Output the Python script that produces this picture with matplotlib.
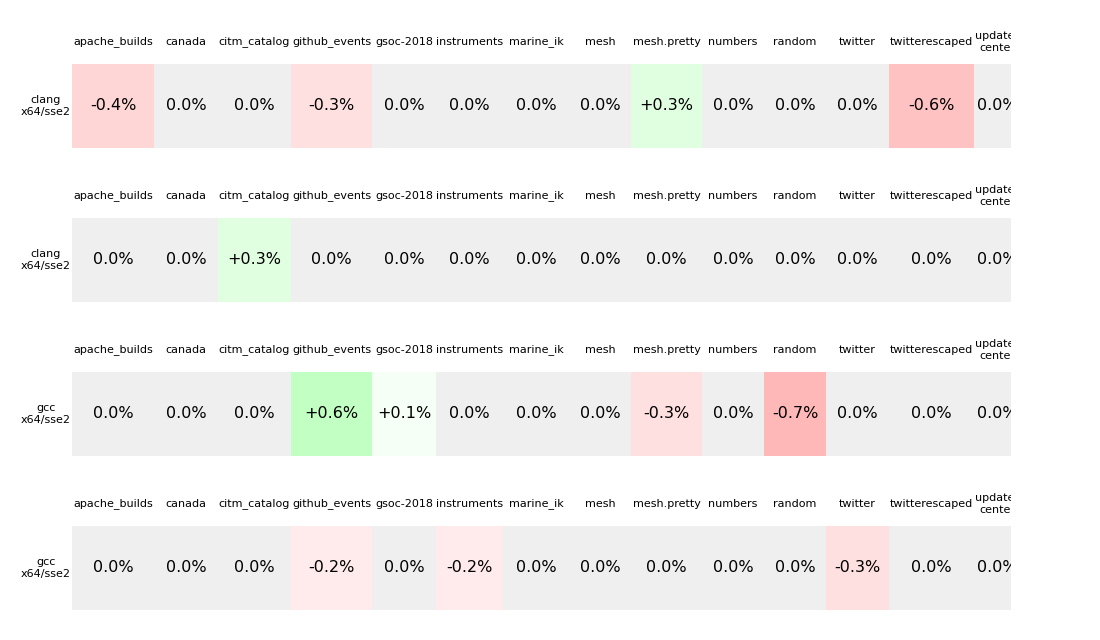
import matplotlib
matplotlib.use("Agg")
import matplotlib.pyplot as plt
from matplotlib.patches import Rectangle
import numpy as np

# ---- data ----
columns = ["apache_builds", "canada", "citm_catalog", "github_events", "gsoc-2018",
           "instruments", "marine_ik", "mesh", "mesh.pretty", "numbers", "random",
           "twitter", "twitterescaped", "update-\ncenter"]
row_labels = ["clang\nx64/sse2", "clang\nx64/sse2", "gcc\nx64/sse2", "gcc\nx64/sse2"]
row1 = [-0.4, 0.0, 0.0, -0.3, 0.0, 0.0, 0.0, 0.0, 0.3, 0.0, 0.0, 0.0, -0.6, 0.0]
row2 = [0.0, 0.0, 0.3, 0.0, 0.0, 0.0, 0.0, 0.0, 0.0, 0.0, 0.0, 0.0, 0.0, 0.0]
row3 = [0.0, 0.0, 0.0, 0.6, 0.1, 0.0, 0.0, 0.0, -0.3, 0.0, -0.7, 0.0, 0.0, 0.0]
row4 = [0.0, 0.0, 0.0, -0.2, 0.0, -0.2, 0.0, 0.0, 0.0, 0.0, 0.0, -0.3, 0.0, 0.0]
rows = [row1, row2, row3, row4]

# ---- layout (pixels) ----
W, H = 1100, 640
col_widths = [82, 64, 73, 81, 64, 67, 66, 62, 71, 62, 62, 63, 85, 46]
x0 = 72
clip_right = 1011
row_top0 = 64
row_pitch = 154
cell_h = 84
label_gap = 22


def cell_color(v):
    if v == 0:
        return (0xEF / 255, 0xEF / 255, 0xEF / 255)
    d = min(1.0, abs(v) * 102 / 255)
    c = 1.0 - d
    return (1.0, c, c) if v < 0 else (c, 1.0, c)


def fmt(v):
    if v == 0:
        return "0.0%"
    return f"{v:+.1f}%"


fig = plt.figure(figsize=(W / 100, H / 100), dpi=100)
ax = fig.add_axes([0, 0, 1, 1])
ax.set_xlim(0, W)
ax.set_ylim(H, 0)
ax.axis("off")

clip = Rectangle((0, 0), clip_right, H, transform=ax.transData, visible=False)
ax.add_patch(clip)

edges = x0 + np.concatenate([[0], np.cumsum(col_widths)])

for r, (vals, rlab) in enumerate(zip(rows, row_labels)):
    top = row_top0 + r * row_pitch
    for c, (name, v) in enumerate(zip(columns, vals)):
        left = edges[c]
        w = col_widths[c]
        rect = Rectangle((left, top), w, cell_h, facecolor=cell_color(v),
                         edgecolor="none")
        ax.add_patch(rect)
        rect.set_clip_path(clip)
        t = ax.text(left + w / 2, top + cell_h / 2, fmt(v), ha="center",
                    va="center", fontsize=11.5, color="black", clip_on=True)
        t.set_clip_path(clip)
        t2 = ax.text(left + w / 2, top - label_gap, name, ha="center",
                     va="center", fontsize=8, color="black",
                     multialignment="center", linespacing=1.15, clip_on=True)
        t2.set_clip_path(clip)
    ax.text(x0 - 1, top + cell_h / 2, rlab, ha="right", va="center",
            fontsize=8, multialignment="center", color="black")

fig.savefig("out.png", dpi=100, facecolor="white")
